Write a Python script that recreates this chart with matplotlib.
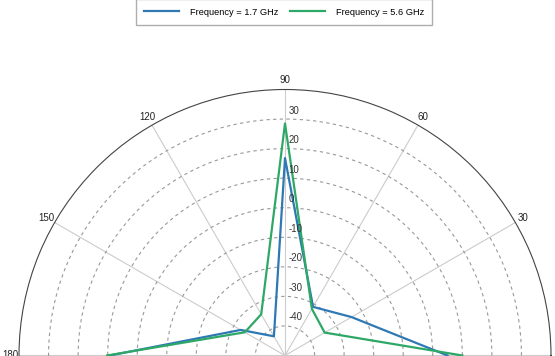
import numpy as np
import matplotlib
matplotlib.use("Agg")
import matplotlib.pyplot as plt

plt.rcParams['font.family'] = ['Liberation Sans', 'DejaVu Sans']

# Data
angles_deg = [0, 30, 60, 90, 120, 150, 180]
freq_17 = [5.0, -24.0, -31.0, 16.8, -42.5, -32.7, 9.3]
freq_56 = [10.0, -34.5, -31.8, 28.5, -33.9, -34.3, 10.2]
series_labels = ["Frequency = 1.7 GHz", "Frequency = 5.6 GHz"]
r_ticks = [-40, -30, -20, -10, 0, 10, 20, 30]
theta_ticks = [0, 30, 60, 90, 120, 150, 180]

W, H = 555, 356
fig = plt.figure(figsize=(W / 100, H / 100), dpi=100)

cx, cy, R = 285.0, 355.5, 266.0
ax = fig.add_axes([(cx - R) / W, (H - cy - R) / H, 2 * R / W, 2 * R / H],
                  projection='polar')

th = np.deg2rad(angles_deg)
l1, = ax.plot(th, freq_17, color='#2e78b4', lw=1.6, label=series_labels[0], zorder=3)
l2, = ax.plot(th, freq_56, color='#2ea866', lw=1.6, label=series_labels[1], zorder=3)

ax.set_ylim(-50, 40)
ax.set_yticks(r_ticks)
ax.set_yticklabels([])
ax.set_thetagrids(theta_ticks, [str(t) for t in theta_ticks], fontsize=7, color='#222222')
ax.tick_params(axis='x', pad=-4)
ax.xaxis.grid(True, color='#cccccc', ls='-', lw=0.8)
ax.yaxis.grid(True, color='#999999', ls=(0, (3, 3)), lw=0.8)
ax.spines['polar'].set_color('#444444')
ax.spines['polar'].set_linewidth(0.8)

for v in r_ticks:
    ax.annotate(str(v), xy=(np.pi / 2, v), xytext=(2.5, 2.5), textcoords='offset points',
                ha='left', va='bottom', fontsize=7, color='#333333', zorder=4)

fig.legend(handles=[l1, l2], loc='lower center', bbox_to_anchor=(284.0 / W, (H - 25) / H),
           ncol=2, fontsize=6.7, frameon=True, fancybox=False, edgecolor='#999999',
           handlelength=3.76, handletextpad=1.18, columnspacing=1.18, borderpad=0.9,
           borderaxespad=0)

fig.savefig("out.png", dpi=100)
